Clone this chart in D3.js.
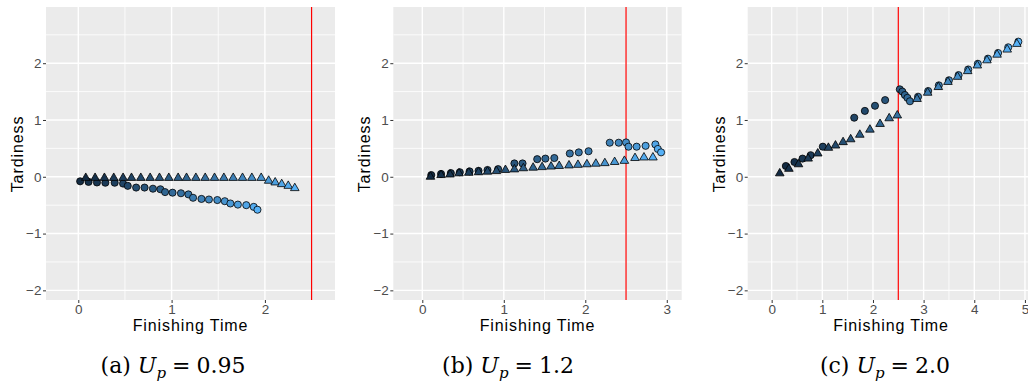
<!DOCTYPE html>
<html>
<head>
<meta charset="utf-8">
<script src="https://cdn.jsdelivr.net/npm/d3@7"></script>
<style>
  html, body { margin: 0; padding: 0; background: #ffffff; }
  svg { display: block; }
</style>
</head>
<body>
<div id="chart"></div>
<script>
// panel (a) U_p = 0.95
const aCircleTime = [0.02, 0.11, 0.20, 0.29, 0.39, 0.48, 0.53, 0.62, 0.71, 0.80, 0.88, 0.93, 1.01, 1.10, 1.18, 1.23, 1.32, 1.40, 1.49, 1.57, 1.63, 1.71, 1.80, 1.88, 1.92];
const aCircleTard = [-0.08, -0.09, -0.10, -0.105, -0.105, -0.12, -0.16, -0.19, -0.19, -0.21, -0.22, -0.27, -0.28, -0.29, -0.31, -0.37, -0.39, -0.40, -0.41, -0.43, -0.47, -0.49, -0.50, -0.53, -0.58];
const aTriTime = [0.08, 0.18, 0.28, 0.38, 0.48, 0.57, 0.67, 0.77, 0.87, 0.97, 1.07, 1.16, 1.26, 1.36, 1.46, 1.56, 1.66, 1.76, 1.86, 1.96, 2.04, 2.11, 2.18, 2.25, 2.32];
const aTriTard = [-0.02, -0.02, -0.02, -0.02, -0.02, -0.02, -0.02, -0.02, -0.02, -0.02, -0.02, -0.02, -0.02, -0.02, -0.02, -0.02, -0.02, -0.02, -0.02, -0.02, -0.07, -0.10, -0.13, -0.16, -0.20];

// panel (b) U_p = 1.2
const bCircleTime = [0.11, 0.23, 0.35, 0.46, 0.58, 0.69, 0.80, 0.93, 1.13, 1.23, 1.41, 1.51, 1.62, 1.81, 1.92, 2.04, 2.30, 2.41, 2.50, 2.53, 2.63, 2.74, 2.86, 2.89, 2.93];
const bCircleTard = [0.03, 0.05, 0.065, 0.08, 0.095, 0.105, 0.12, 0.135, 0.235, 0.235, 0.31, 0.32, 0.33, 0.41, 0.43, 0.45, 0.60, 0.60, 0.605, 0.53, 0.53, 0.545, 0.57, 0.49, 0.43];
const bTriTime = [0.10, 0.23, 0.34, 0.45, 0.57, 0.69, 0.80, 0.91, 1.02, 1.13, 1.24, 1.36, 1.47, 1.58, 1.68, 1.80, 1.91, 2.02, 2.13, 2.24, 2.36, 2.48, 2.61, 2.72, 2.83];
const bTriTard = [0.00, 0.03, 0.04, 0.06, 0.07, 0.08, 0.09, 0.10, 0.12, 0.13, 0.15, 0.16, 0.17, 0.18, 0.19, 0.20, 0.21, 0.22, 0.23, 0.24, 0.26, 0.28, 0.33, 0.34, 0.34];

// panel (c) U_p = 2.0
const cCircleTime = [0.28, 0.45, 0.61, 0.77, 1.01, 1.63, 1.84, 2.04, 2.24, 2.53, 2.58, 2.63, 2.68, 2.73, 2.89, 3.09, 3.30, 3.50, 3.69, 3.88, 4.07, 4.27, 4.47, 4.67, 4.87];
const cCircleTard = [0.19, 0.26, 0.32, 0.38, 0.53, 1.04, 1.16, 1.25, 1.35, 1.54, 1.50, 1.44, 1.39, 1.33, 1.41, 1.51, 1.61, 1.70, 1.79, 1.89, 1.99, 2.08, 2.18, 2.28, 2.38];
const cTriTime = [0.16, 0.34, 0.53, 0.72, 0.91, 1.12, 1.26, 1.41, 1.56, 1.74, 1.94, 2.14, 2.32, 2.48, 2.87, 3.08, 3.29, 3.48, 3.67, 3.87, 4.06, 4.25, 4.45, 4.65, 4.84];
const cTriTard = [0.06, 0.14, 0.22, 0.32, 0.41, 0.51, 0.55, 0.61, 0.66, 0.74, 0.83, 0.93, 1.03, 1.08, 1.37, 1.48, 1.58, 1.67, 1.76, 1.86, 1.96, 2.05, 2.15, 2.24, 2.34];

const yTicks = [-2, -1, 0, 1, 2];
const aXTicks = [0, 1, 2];
const bXTicks = [0, 1, 2, 3];
const cXTicks = [0, 1, 2, 3, 4, 5];
const deadline = 2.5;
const captionLabels = ["(a)", "(b)", "(c)"];
const captionValues = ["0.95", "1.2", "2.0"];

const width = 1028, height = 387;
const panelTop = 7, panelBottom = 300;
const yDomain = [-2.17, 2.99];

const panels = [
  { left: 46, right: 335, xDomain: [-0.346, 2.751], ticks: aXTicks, circX: aCircleTime, circY: aCircleTard, triX: aTriTime, triY: aTriTard, capX: 173, titleX: 190.5 },
  { left: 393.3, right: 681.7, xDomain: [-0.356, 3.183], ticks: bXTicks, circX: bCircleTime, circY: bCircleTard, triX: bTriTime, triY: bTriTard, capX: 508, titleX: 537.5 },
  { left: 747.7, right: 1030, xDomain: [-0.473, 5.10], ticks: cXTicks, circX: cCircleTime, circY: cCircleTard, triX: cTriTime, triY: cTriTard, capX: 885, titleX: 891 }
];

const svg = d3.select("#chart").append("svg")
  .attr("width", width)
  .attr("height", height)
  .attr("viewBox", `0 0 ${width} ${height}`);

const y = d3.scaleLinear().domain(yDomain).range([panelBottom, panelTop]);
const color = d3.scaleLinear().domain([1, 25]).range(["#132B43", "#56B1F7"]).interpolate(d3.interpolateLab);

const sans = "'Liberation Sans', Arial, Helvetica, sans-serif";

function minorOf(ticks, domain) {
  const out = [];
  ticks.forEach((t) => { if (t + 0.5 > domain[0] && t + 0.5 < domain[1]) out.push(t + 0.5); });
  if (ticks[0] - 0.5 > domain[0]) out.unshift(ticks[0] - 0.5);
  return out;
}

panels.forEach((p, i) => {
  const x = d3.scaleLinear().domain(p.xDomain).range([p.left, p.right]);
  const g = svg.append("g");

  const clipId = `clip${i}`;
  svg.append("clipPath").attr("id", clipId)
    .append("rect")
    .attr("x", p.left).attr("y", panelTop)
    .attr("width", p.right - p.left).attr("height", panelBottom - panelTop);

  // panel background + grid
  g.append("rect")
    .attr("x", p.left).attr("y", panelTop)
    .attr("width", p.right - p.left).attr("height", panelBottom - panelTop)
    .attr("fill", "#EBEBEB");

  const grid = g.append("g").attr("clip-path", `url(#${clipId})`);
  const yMinor = minorOf(yTicks, yDomain);
  const xMinor = minorOf(p.ticks, p.xDomain);

  grid.selectAll(".hminor").data(yMinor).enter().append("line")
    .attr("x1", p.left).attr("x2", p.right)
    .attr("y1", (d) => y(d)).attr("y2", (d) => y(d))
    .attr("stroke", "#ffffff").attr("stroke-width", 0.8);
  grid.selectAll(".vminor").data(xMinor).enter().append("line")
    .attr("y1", panelTop).attr("y2", panelBottom)
    .attr("x1", (d) => x(d)).attr("x2", (d) => x(d))
    .attr("stroke", "#ffffff").attr("stroke-width", 0.8);
  grid.selectAll(".hmajor").data(yTicks).enter().append("line")
    .attr("x1", p.left).attr("x2", p.right)
    .attr("y1", (d) => y(d)).attr("y2", (d) => y(d))
    .attr("stroke", "#ffffff").attr("stroke-width", 1.4);
  grid.selectAll(".vmajor").data(p.ticks).enter().append("line")
    .attr("y1", panelTop).attr("y2", panelBottom)
    .attr("x1", (d) => x(d)).attr("x2", (d) => x(d))
    .attr("stroke", "#ffffff").attr("stroke-width", 1.4);

  // red deadline
  grid.append("line")
    .attr("x1", x(deadline)).attr("x2", x(deadline))
    .attr("y1", panelTop).attr("y2", panelBottom)
    .attr("stroke", "#FF0000").attr("stroke-width", 1.2);

  // points: circles under, triangles on top
  const marks = g.append("g").attr("clip-path", `url(#${clipId})`);
  const circles = p.circX.map((t, k) => ({ t, v: p.circY[k], k: k + 1 }));
  const tris = p.triX.map((t, k) => ({ t, v: p.triY[k], k: k + 1 }));

  marks.selectAll(".pt-c").data(circles).enter().append("path")
    .attr("d", d3.symbol().type(d3.symbolCircle).size(40))
    .attr("transform", (d) => `translate(${x(d.t)},${y(d.v)})`)
    .attr("fill", (d) => color(d.k))
    .attr("stroke", "#000000").attr("stroke-width", 0.8);

  marks.selectAll(".pt-t").data(tris).enter().append("path")
    .attr("d", d3.symbol().type(d3.symbolTriangle).size(32))
    .attr("transform", (d) => `translate(${x(d.t)},${y(d.v)})`)
    .attr("fill", (d) => color(d.k))
    .attr("stroke", "#000000").attr("stroke-width", 0.8);

  // axes
  g.append("g")
    .attr("transform", `translate(0, ${panelBottom})`)
    .call(d3.axisBottom(x).tickValues(p.ticks).tickFormat(d3.format("d")).tickSize(3).tickPadding(1))
    .call((a) => a.select(".domain").remove())
    .call((a) => a.selectAll("line").attr("stroke", "#333333").attr("stroke-width", 1))
    .call((a) => a.selectAll("text").attr("fill", "#4D4D4D").attr("font-size", "13.5").attr("font-family", sans));

  g.append("g")
    .attr("transform", `translate(${p.left}, 0)`)
    .call(d3.axisLeft(y).tickValues(yTicks).tickFormat((d) => d < 0 ? "\u2212" + Math.abs(d) : d).tickSize(3).tickPadding(1.5))
    .call((a) => a.select(".domain").remove())
    .call((a) => a.selectAll("line").attr("stroke", "#333333").attr("stroke-width", 1))
    .call((a) => a.selectAll("text").attr("fill", "#4D4D4D").attr("font-size", "13.5").attr("font-family", sans));

  // axis titles
  g.append("text")
    .attr("x", p.titleX)
    .attr("y", 331)
    .attr("text-anchor", "middle")
    .attr("font-family", sans)
    .attr("font-size", "16")
    .attr("letter-spacing", "0.9")
    .attr("fill", "#000000")
    .text("Finishing Time");

  g.append("text")
    .attr("transform", `translate(${p.left - 23}, ${154}) rotate(-90)`)
    .attr("text-anchor", "middle")
    .attr("font-family", sans)
    .attr("font-size", "16")
    .attr("letter-spacing", "0.9")
    .attr("fill", "#000000")
    .text("Tardiness");

  // caption
  const cap = svg.append("text")
    .attr("x", p.capX)
    .attr("y", 373)
    .attr("text-anchor", "middle")
    .attr("font-family", "'DejaVu Serif', serif")
    .attr("font-size", "22")
    .attr("fill", "#000000");
  cap.append("tspan").text(captionLabels[i] + " ");
  cap.append("tspan").attr("font-style", "italic").text("U");
  cap.append("tspan").attr("font-style", "italic").attr("font-size", "15").attr("dy", 5).text("p");
  cap.append("tspan").attr("dy", -5).attr("dx", 6).text("=");
  cap.append("tspan").attr("dx", 6).text(captionValues[i]);
});
</script>
</body>
</html>
